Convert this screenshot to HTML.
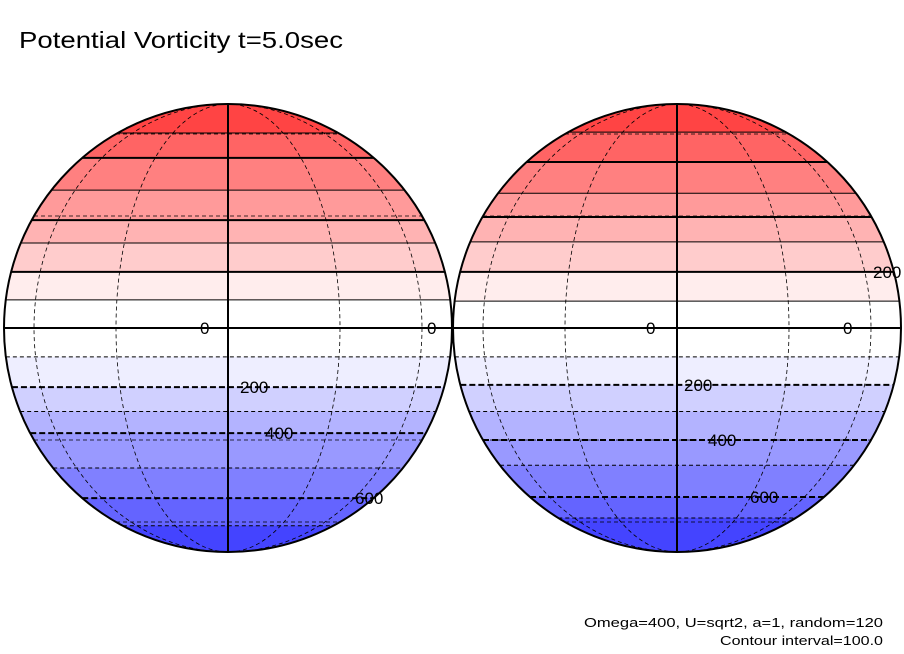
<!DOCTYPE html>
<html><head><meta charset="utf-8"><style>
html,body{margin:0;padding:0;background:#fff;}
svg{display:block;font-family:"Liberation Sans",sans-serif;}
</style></head><body>
<svg id="chart" width="904" height="654" viewBox="0 0 904 654">
<text x="19" y="48" font-size="23" textLength="324" lengthAdjust="spacingAndGlyphs">Potential Vorticity t=5.0sec</text>
<text x="883" y="627" font-size="13" text-anchor="end" textLength="299" lengthAdjust="spacingAndGlyphs">Omega=400, U=sqrt2, a=1, random=120</text>
<text x="883" y="645" font-size="13" text-anchor="end" textLength="163" lengthAdjust="spacingAndGlyphs">Contour interval=100.0</text>
<g id="globes"></g>
</svg>
<script>
// contour levels (top to bottom)
const levels = [700, 600, 500, 400, 300, 200, 100, 0, -100, -200, -300, -400, -500, -600, -700];
// estimated latitude (deg) of each contour, per globe
const latsLeft  = [60.5, 49.4, 38, 28.8, 22.3, 14.5, 7.2, 0, -7.4, -15.3, -21.9, -28, -38.7, -49.4, -62];
const latsRight = [61, 47.8, 37, 29.7, 22.6, 14.5, 6.9, 0, -7.4, -14.7, -21.9, -30, -37.8, -49, -58];
// band colours from above top contour down to below bottom contour
const bandColors = ['#ff4444','#ff6464','#ff8080','#ff9a9a','#ffb3b3','#ffcccc','#ffeded','#ffffff',
                    '#ffffff','#eeeeff','#d0d0ff','#b3b3ff','#9999ff','#8080ff','#6464ff','#4444ff'];
// contour labels: [level, x offset from center, text]
const labelsLeft  = [[0,-28,'0'],[0,199,'0'],[-200,12,'200'],[-400,37,'400'],[-600,127,'600']];
const labelsRight = [[0,-31,'0'],[0,166,'0'],[200,196,'200'],[-200,7,'200'],[-400,31,'400'],[-600,73,'600']];

const NS='http://www.w3.org/2000/svg';
const R=224, CY=328;
function mk(tag, attrs, parent){const e=document.createElementNS(NS,tag);for(const k in attrs)e.setAttribute(k,attrs[k]);parent.appendChild(e);return e;}
function yOfLat(lat){return CY - R*Math.sin(lat*Math.PI/180);}

function drawGlobe(cx, lats, labels, name){
  const root=document.getElementById('globes');
  const g=mk('g',{},root);
  
  
  const cid='clip-'+name;
  const defs=mk('defs',{},g);
  const cp=mk('clipPath',{id:cid},defs);
  mk('circle',{cx:cx,cy:CY,r:R},cp);
  const inner=mk('g',{'clip-path':'url(#'+cid+')'},g);
  const ys=[CY-R-2].concat(lats.map(yOfLat)).concat([CY+R+2]);
  for(let i=0;i<ys.length-1;i++){
    const b=mk('rect',{x:cx-R-2,y:ys[i],width:2*R+4,height:ys[i+1]-ys[i]+0.5,fill:bandColors[i]},inner);
    
    
  }
  [60,30,-30,-60].forEach(l=>{
    const y=yOfLat(l);const hw=R*Math.cos(l*Math.PI/180);
    const p=mk('line',{x1:cx-hw,x2:cx+hw,y1:y,y2:y,stroke:'#000','stroke-width':0.8,'stroke-dasharray':'4 3'},inner);
    
    
  });
  [30,60].forEach(lo=>{
    const m=mk('ellipse',{cx:cx,cy:CY,rx:R*Math.sin(lo*Math.PI/180),ry:R,fill:'none',stroke:'#000','stroke-width':0.8,'stroke-dasharray':'4 3'},inner);
    
    
  });
  lats.forEach((lat,i)=>{
    const lv=levels[i];const y=yOfLat(lat);const hw=R*Math.cos(lat*Math.PI/180);
    const thick=(Math.abs(lv)%200===0);
    const a={x1:cx-hw,x2:cx+hw,y1:y,y2:y,stroke:'#000','stroke-width':thick?2:1};
    if(lv<0)a['stroke-dasharray']=thick?'6 3':'4 3';
    const c=mk('line',a,inner);
    
    
  });
  const cm=mk('line',{x1:cx,x2:cx,y1:CY-R,y2:CY+R,stroke:'#000','stroke-width':2},inner);
  
  
  labels.forEach(([lv,dx,t])=>{
    const i=levels.indexOf(lv);const y=yOfLat(lats[i]);
    const tx=mk('text',{x:cx+dx,y:y+6,'font-size':17},g);
    tx.textContent=t;
    
    
  });
  const o=mk('circle',{cx:cx,cy:CY,r:R,fill:'none',stroke:'#000','stroke-width':2},g);
  
  
}
drawGlobe(228, latsLeft, labelsLeft, 'left-globe');
drawGlobe(677, latsRight, labelsRight, 'right-globe');
</script>
</body></html>
